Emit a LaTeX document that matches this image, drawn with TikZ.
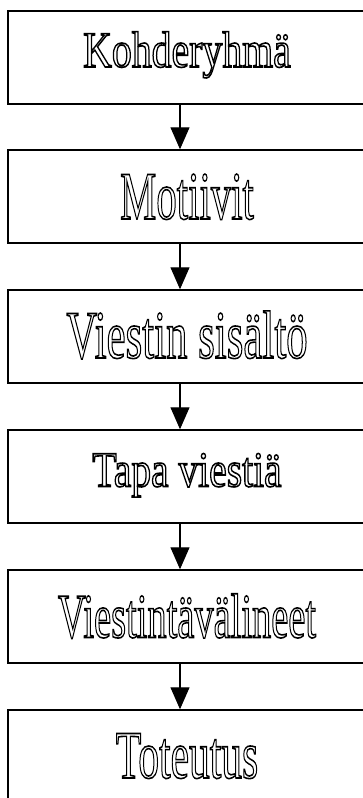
\documentclass[tikz,border=0pt]{standalone}
\usepackage{fontspec}
\setmainfont{Liberation Serif}
\usetikzlibrary{arrows.meta,
                positioning, % For easy node-relative placements
               }
\tikzstyle{edge} = [-{Triangle[length=22pt,width=19pt]}, line width=1.1pt]
\tikzstyle{stage} = [rectangle, draw=black, line width=1.4pt, minimum width=358pt, minimum height=93pt, inner sep=0pt, text centered]
\newcommand{\hollow}[3]{\fontsize{#1}{#1}\selectfont\scalebox{#2}[1]{\special{pdf:literal direct 1 Tr 1.6 w}#3\special{pdf:literal direct 0 Tr}}}

\begin{document}
\begin{tikzpicture}[x=1pt, y=1pt]
  \useasboundingbox (0, 0) rectangle (362, -798);

  \node (kohde) [stage, text height=34pt, text depth=15pt] at (187, -57.5) {\hollow{51}{0.78}{Kohderyhmä}};
  \node (motiivit) [stage, text height=45pt, text depth=0pt] at (187, -196.5) {\hollow{68}{0.6}{Motiivit}};
  \node (sisalto) [stage, text height=45pt, text depth=2pt] at (187, -336.5) {\hollow{68}{0.63}{Viestin sisältö}};
  \node (tapa) [stage, text height=33pt, text depth=13pt] at (187, -476.5) {\hollow{50}{0.79}{Tapa viestiä}};
  \node (valineet) [stage, text height=42pt, text depth=0pt] at (187, -616.5) {\hollow{63}{0.61}{Viestintävälineet}};
  \node (toteutus) [stage, text height=45pt, text depth=2pt] at (187, -756.5) {\hollow{68}{0.61}{Toteutus}};

  \path [edge] ([xshift=-7pt]kohde.south) edge ([xshift=-7pt]motiivit.north);
  \path [edge] ([xshift=-7pt]motiivit.south) edge ([xshift=-7pt]sisalto.north);
  \path [edge] ([xshift=-7pt]sisalto.south) edge ([xshift=-7pt]tapa.north);
  \path [edge] ([xshift=-7pt]tapa.south) edge ([xshift=-7pt]valineet.north);
  \path [edge] ([xshift=-7pt]valineet.south) edge ([xshift=-7pt]toteutus.north);
\end{tikzpicture}
\end{document}
